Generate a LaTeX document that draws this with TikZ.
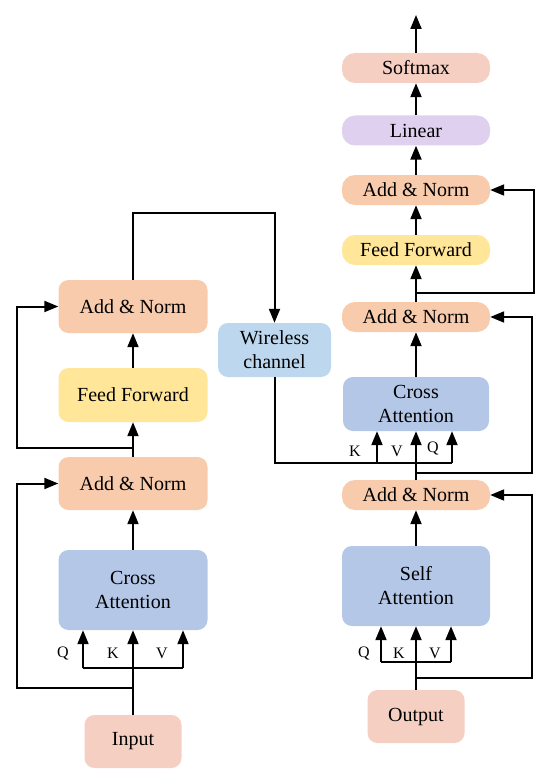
\documentclass[tikz,border=0pt]{standalone}
\usepackage{fontspec}
\setmainfont{Liberation Serif}
\usetikzlibrary{arrows.meta}
\definecolor{cnorm}{HTML}{F8CBAD}
\definecolor{cff}{HTML}{FFE699}
\definecolor{catt}{HTML}{B4C7E7}
\definecolor{cwire}{HTML}{BDD7EE}
\definecolor{cio}{HTML}{F5D0C2}
\definecolor{clin}{HTML}{DFD0F0}
\tikzset{
  box/.style={draw=none, rounded corners=10pt, inner sep=0pt, align=center,
    font=\fontsize{20}{24}\selectfont},
  pill/.style={box, rounded corners=13pt, minimum width=148pt, minimum height=30pt},
  lab/.style={font=\fontsize{16}{18}\selectfont, inner sep=0pt},
  con/.style={line width=2pt},
  arr/.style={con, -{Triangle[length=14pt,width=11pt]}},
}
\begin{document}
\begin{tikzpicture}[x=1pt,y=-1pt]
\useasboundingbox (0,0) rectangle (550,778);
% left column
\node[box, fill=cnorm, minimum width=149pt, minimum height=53pt] (linA) at (133,306.5) {Add \& Norm};
\node[box, fill=cff, minimum width=149pt, minimum height=54pt] (lff) at (133,395) {Feed Forward};
\node[box, fill=cnorm, minimum width=149pt, minimum height=53pt] (lanB) at (133,483.5) {Add \& Norm};
\node[box, fill=catt, minimum width=149pt, minimum height=80pt] (lca) at (133,590) {Cross\\Attention};
\node[box, fill=cio, minimum width=97pt, minimum height=53pt] (input) at (133,741.5) {Input};
\node[box, fill=cwire, minimum width=113pt, minimum height=54pt] (wire) at (274.5,350) {Wireless\\channel};
% right column
\node[pill, fill=cio] (soft) at (416,68) {Softmax};
\node[pill, fill=clin] (lin) at (416,130.5) {Linear};
\node[pill, fill=cnorm] (ran1) at (416,190) {Add \& Norm};
\node[pill, fill=cff] (rff) at (416,250) {Feed Forward};
\node[pill, fill=cnorm] (ran2) at (416,317) {Add \& Norm};
\node[box, fill=catt, minimum width=146pt, minimum height=54pt] (rca) at (416,404) {Cross\\Attention};
\node[pill, fill=cnorm] (ran3) at (416,495) {Add \& Norm};
\node[box, fill=catt, minimum width=148pt, minimum height=80pt] (rsa) at (416,586) {Self\\Attention};
\node[box, fill=cio, minimum width=97pt, minimum height=53pt] (out) at (416,716.5) {Output};

% left connectors
\coordinate (lq) at (83,668);
\coordinate (lv) at (183,668);
\coordinate (lr1) at (133,688);
\coordinate (lr2) at (133,448);
\coordinate (ltop) at (133,213);
\draw[arr] (input.north) -- (lca.south);
\draw[con] (lq) -- (lv);
\draw[arr] (lq) -- (lq |- lca.south);
\draw[arr] (lv) -- (lv |- lca.south);
\draw[arr] (lr1) -- (17,688) |- (lanB.west);
\draw[arr] (lca.north) -- (lanB.south);
\draw[arr] (lanB.north) -- (lff.south);
\draw[arr] (lr2) -- (17,448) |- (linA.west);
\draw[arr] (lff.north) -- (linA.south);
\draw[arr] (linA.north) -- (ltop) -| (wire.north);
\node[lab] (lQ) at (63,653) {Q};
\node[lab] (lK) at (113,653) {K};
\node[lab] (lV) at (162,653) {V};

% right connectors
\coordinate (rq) at (452,463);
\coordinate (rk) at (377,463);
\coordinate (rr2) at (416,473);
\coordinate (rr3) at (416,293);
\coordinate (rtop) at (416,15);
\draw[con] (wire.south) |- (rq);
\draw[arr] (rq) -- (rq |- rca.south);
\draw[arr] (rk) -- (rk |- rca.south);
\draw[arr] (ran3.north) -- (rca.south);
\draw[arr] (rr2) -- (532,473) |- (ran2.east);
\draw[arr] (rca.north) -- (ran2.south);
\draw[arr] (ran2.north) -- (rff.south);
\draw[arr] (rr3) -- (534,293) |- (ran1.east);
\draw[arr] (rff.north) -- (ran1.south);
\draw[arr] (ran1.north) -- (lin.south);
\draw[arr] (lin.north) -- (soft.south);
\draw[arr] (soft.north) -- (rtop);
\node[lab] (rK) at (355,451) {K};
\node[lab] (rV) at (397,451) {V};
\node[lab] (rQ) at (433,448) {Q};

\coordinate (sq) at (381,662);
\coordinate (sv) at (451,662);
\coordinate (rr1) at (416,678);
\draw[arr] (out.north) -- (rsa.south);
\draw[con] (sq) -- (sv);
\draw[arr] (sq) -- (sq |- rsa.south);
\draw[arr] (sv) -- (sv |- rsa.south);
\draw[arr] (rr1) -- (532,678) |- (ran3.east);
\draw[arr] (rsa.north) -- (ran3.south);
\node[lab] (sQ) at (364,653) {Q};
\node[lab] (sK) at (399,653) {K};
\node[lab] (sV) at (435,653) {V};
\end{tikzpicture}
\end{document}
